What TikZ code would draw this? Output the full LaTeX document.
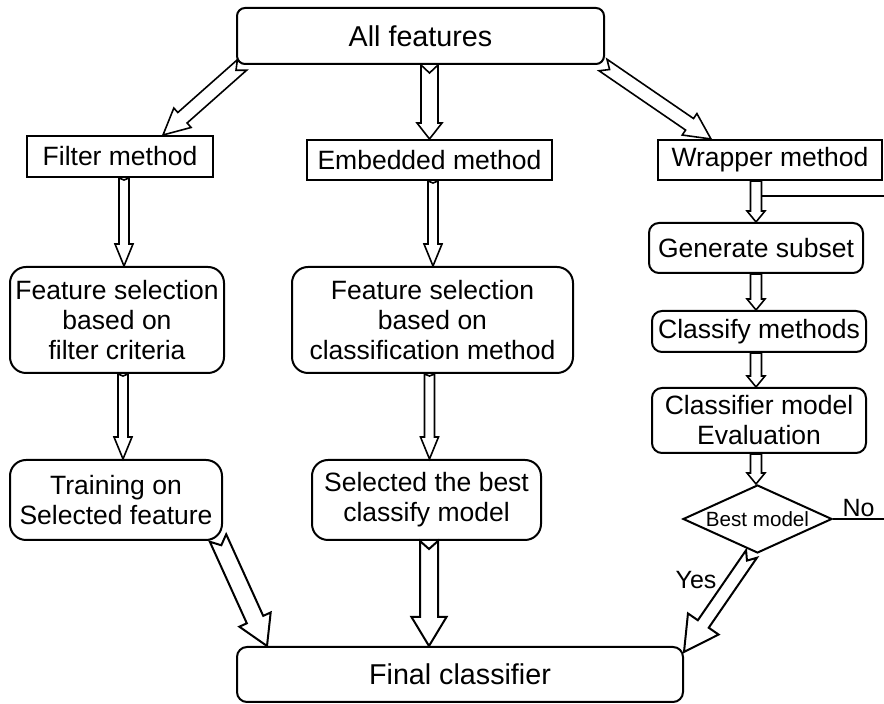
\documentclass[tikz,border=0pt]{standalone}
\usepackage{fontspec}
\setmainfont{Liberation Sans}
\usetikzlibrary{calc, shapes.geometric}

\tikzset{
    shaft hw/.store in=\shafthw, head hw/.store in=\headhw,
    head len/.store in=\headlen, tail notch/.store in=\tailnotch,
    shaft hw=3pt, head hw=6pt, head len=10pt, tail notch=2pt,
    box/.style={draw, line width=1pt, inner sep=0pt, align=center, font=\fontsize{13.25}{15}\selectfont},
    rbox/.style={box, rounded corners=5pt},
    bigbox/.style={rbox, rounded corners=4pt, font=\fontsize{14.35}{16}\selectfont},
    tallbox/.style={box, rounded corners=8pt},
    blockarrow/.style={draw, fill=white, line width=0.8pt, to path={
        ($(\tikztostart)!\shafthw!90:(\tikztotarget)$)
        -- ($(\tikztostart)!\tailnotch!(\tikztotarget)$)
        -- ($(\tikztostart)!\shafthw!-90:(\tikztotarget)$)
        -- ($(\tikztotarget)!\headlen!(\tikztostart)!\shafthw!90:(\tikztostart)$)
        -- ($(\tikztotarget)!\headlen!(\tikztostart)!\headhw!90:(\tikztostart)$)
        -- (\tikztotarget)
        -- ($(\tikztotarget)!\headlen!(\tikztostart)!\headhw!-90:(\tikztostart)$)
        -- ($(\tikztotarget)!\headlen!(\tikztostart)!\shafthw!-90:(\tikztostart)$)
        -- cycle}},
    slant/.style={blockarrow, shaft hw=3.5pt, head hw=6.5pt, head len=13pt, tail notch=4pt},
    down/.style={blockarrow, shaft hw=2.5pt, head hw=4.5pt, head len=11pt, tail notch=1pt},
    wrapdown/.style={blockarrow, shaft hw=2.75pt, head hw=4.5pt, head len=5.5pt, tail notch=0pt},
    final/.style={blockarrow, line width=1pt, shaft hw=4.5pt, head hw=8.6pt, head len=14.5pt, tail notch=4pt},
    label/.style={font=\fontsize{12.5}{14}\selectfont}
}

\begin{document}
\begin{tikzpicture}[x=0.5pt, y=-0.5pt]
    \useasboundingbox (0, 0) rectangle (884, 704);

    \node [bigbox, minimum width=183.5pt, minimum height=28pt] (all) at (420.5, 36) {All features};

    \node [box, minimum width=93pt, minimum height=20.5pt] (filt) at (120, 156.5) {Filter method};
    \node [box, minimum width=122.5pt, minimum height=20pt] (emb) at (429.5, 160) {Embedded method};
    \node [box, minimum width=112pt, minimum height=20pt] (wrap) at (770, 160) {Wrapper method};

    \node [tallbox, minimum width=107pt, minimum height=53pt] (fsf) at (117, 320) {Feature selection\\based on\\filter criteria};
    \node [tallbox, minimum width=140.5pt, minimum height=53pt] (fsc) at (432.5, 320) {Feature selection\\based on\\classification method};
    \node [tallbox, minimum width=106pt, minimum height=40pt] (train) at (116, 500) {Training on\\Selected feature};
    \node [tallbox, minimum width=114.5pt, minimum height=40pt] (sel) at (426.5, 500) {Selected the best\\classify model};

    \node [rbox, minimum width=107pt, minimum height=25pt] (gen) at (756, 248) {Generate subset};
    \node [rbox, minimum width=107pt, minimum height=20.5pt] (cls) at (759, 331.5) {Classify methods};
    \node [rbox, minimum width=107pt, minimum height=32.5pt] (eval) at (759, 420.5) {Classifier model\\Evaluation};
    \node [draw, diamond, line width=1pt, inner sep=0pt, shape aspect=2.2, minimum width=74.5pt, minimum height=34pt,
        font=\fontsize{10.3}{12}\selectfont] (best) at (757.5, 519) {Best model};

    \node [bigbox, rounded corners=5pt, minimum width=223pt, minimum height=27.5pt] (fin) at (460, 674.5) {Final classifier};

    \draw [slant] ([xshift=3pt]all.south west) to ([xshift=21.5pt]filt.north);
    \draw [blockarrow, shaft hw=4.25pt, head hw=6.25pt, head len=8pt, tail notch=4pt] (emb.north |- all.south) to (emb.north);
    \draw [slant] ([xshift=-1pt]all.south east) to ([xshift=-29.5pt]wrap.north);

    \draw [down] ([xshift=2pt]filt.south) to ([xshift=2pt]filt.south |- fsf.north);
    \draw [down] ([xshift=3pt]fsf.south) to ([xshift=3pt]fsf.south |- train.north);
    \draw [down] ([xshift=1.75pt]emb.south) to ([xshift=1.75pt]emb.south |- fsc.north);
    \draw [down] ([xshift=-1.5pt]fsc.south) to ([xshift=-1.5pt]fsc.south |- sel.north);

    \draw [wrapdown] (gen.north |- wrap.south) to (gen.north);
    \draw [wrapdown] (gen.south) to (gen.south |- cls.north);
    \draw [wrapdown] (cls.south -| gen.south) to (eval.north -| gen.south);
    \draw [wrapdown] (eval.south -| gen.south) to (best.north -| gen.south);

    \coordinate (loop) at (884, 196);
    \coordinate (noend) at (884, 519);
    \draw [line width=0.6pt] (loop) -- ([xshift=2.75pt]loop -| gen.north);
    \draw [line width=0.8pt] (best.east) -- node [label, above, inner sep=0.5pt] (no) {No} (noend);

    \draw [final] ([xshift=-2.5pt, yshift=1.5pt]train.south east) to ([xshift=15.5pt]fin.north west);
    \draw [final, head hw=8.75pt] ([xshift=1.25pt]sel.south) to ([xshift=1.25pt]sel.south |- fin.north);
    \draw [final, shaft hw=3.3pt, head hw=9.3pt, head len=17pt] ([xshift=-3pt]best.south) to ([yshift=-3pt]fin.north east);
    \node [label] (yes) at (696, 580) {Yes};
\end{tikzpicture}
\end{document}
